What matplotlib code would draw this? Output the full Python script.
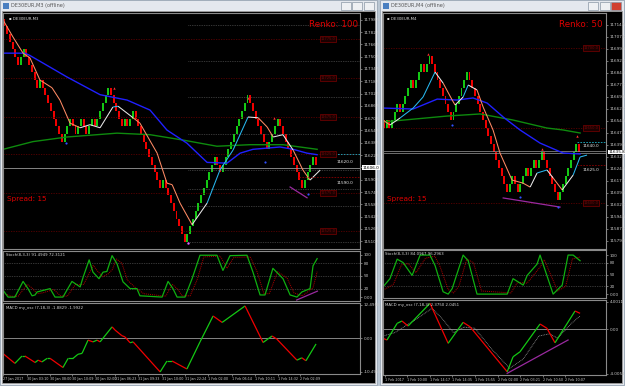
import matplotlib
matplotlib.use("Agg")
import matplotlib.pyplot as plt
import numpy as np
from matplotlib.collections import LineCollection
from matplotlib.patches import Rectangle

W, H = 625, 386

# ---------------- left window: DE30EUR,M3  Renko 100 ----------------
left_base = 11500.0
left_brick = 10.0
left_start = 30
left_levels = [29, 28, 27, 26, 25, 24, 25, 26, 25, 24, 23, 22, 21, 22, 21, 20, 19, 18, 17,
               16, 15, 14, 15, 16, 17, 16, 15, 16, 17, 16, 15, 16, 17, 16, 17, 18,
               19, 20, 21,
               20, 19, 18, 17, 16, 17, 16, 17, 18, 17,
               16, 15, 14, 13, 12, 11, 10, 9, 8, 9, 8, 7, 6, 5, 4, 3, 2, 1,
               2, 3, 4, 5, 6, 7, 8, 9, 10, 11, 12, 11, 10, 11, 12, 13, 14, 15, 16, 17, 18, 19, 20,
               19, 18, 17, 16, 15, 14, 13,
               14, 15, 16, 17,
               16, 15, 14, 13, 12, 11, 10, 9, 8,
               9, 10, 11, 12, 11]

left_blue_x = [-0.5, 7.5, 9.3, 22.9, 35, 44.9, 53.3, 59.5, 66.8, 74.2, 81.5, 86.3, 91, 100.9, 105.7, 110.8, 114.5]
left_blue_y = [11755, 11755, 11752, 11724, 11701, 11694, 11681, 11655, 11638, 11613, 11612, 11625, 11630, 11633, 11630, 11625, 11623]
left_green_x = [-0.5, 10.4, 22.9, 41.2, 53.3, 65.4, 77.8, 89.9, 102, 114.5]
left_green_y = [11630, 11640, 11646, 11651, 11649, 11642, 11634, 11636, 11636, 11630]
left_fast_x = [-0.5, 3.1, 6.8, 9.3, 13, 17.4, 20.3, 24, 27.7, 31.3, 35, 39.7, 41.6, 47.1, 49.6, 55.9,
               59.5, 61.4, 64.3, 68.7, 74.2, 78.9, 83.7, 89.2, 92.9, 96.2, 98.4, 102, 105.7, 109.3, 111.9, 115.6]
left_fast_y = [11798, 11776, 11755, 11749, 11720, 11710, 11694, 11664, 11658, 11662, 11658, 11685, 11686, 11671, 11664, 11625,
               11586, 11584, 11560, 11532, 11560, 11603, 11629, 11672, 11671, 11659, 11646, 11649, 11629, 11603, 11590, 11603]
left_pivots = [11791.6, 11744.8, 11698.0, 11649.9, 11603.1, 11578.0, 11556.3, 11509.5]
left_levels_red = [11773, 11723, 11672, 11624, 11573, 11524]
left_level_labels = ["11775.0", "11725.0", "11675.0", "11625.0", "11575.0", "11525.0"]
left_bid = 11606.0
left_low_dots_x = [22.5, 95.4, 111.2]
left_low_dots_y = [11638, 11613.5, 11572]
left_bottom_dot = (67.2, 11508)
left_peak_x = [40.1, 89.2, 98.7]
left_peak_y = [11710, 11697, 11671]
left_div_x = [104.6, 110.8]
left_div_y = [11581, 11567]

left_stoch_x = [-0.5, 1.3, 3.8, 6.8, 8.6, 10.1, 11.2, 11.9, 16.7, 18.5, 21.4, 24.7, 27.7, 28.8, 31, 32.4, 34.6, 36.1,
                37.5, 39.4, 41.2, 43.4, 46, 48.5, 49.6, 57.7, 59.9, 61.7, 63.2, 66.1, 68.7, 71.6, 77.8, 80, 82.6,
                88.8, 91, 93.6, 95.4, 98.3, 102, 104.6, 107.1, 108.9, 111.9, 113, 114.5]
left_stoch_k = [16, 0, 0, 37, 20, 3, 5, 12, 20, 0, 0, 37, 24, 47, 88, 59, 43.5, 59,
                60.5, 98, 79, 36, 20, 20, 3, 0, 37, 20, 0, 0, 43.5, 99, 99, 63, 98,
                99, 59, 5, 5, 68, 43.5, 5, 0, 12, 20, 74, 91]
left_sig_x = [-0.5, 2.5, 5, 8.3, 10, 12, 14, 18, 20.5, 23, 26, 29, 32.5, 34, 36, 38, 39.5, 41, 43, 45, 48, 51,
              59, 61.5, 63.5, 65, 68, 70.5, 73, 79, 81.5, 84, 90, 92.5, 95, 97, 100, 103.5, 106, 109, 111, 113, 114.5]
left_sig_d = [10, 2, 2, 30, 22, 8, 10, 18, 3, 2, 30, 30, 75, 62, 48, 55, 65, 90, 80, 40, 22, 8,
              2, 30, 18, 3, 3, 40, 95, 97, 68, 94, 95, 60, 8, 8, 60, 45, 10, 3, 12, 22, 60]
left_stoch_div_x = [107.0, 114.6]
left_stoch_div_y = [-7, 14]

left_macd_x = [-0.5, 3.8, 6.4, 7.5, 11.2, 12.3, 13.7, 15.6, 16.7, 21.4, 23.3, 25.1, 26.9, 28.4, 30.6, 32.4, 33.9,
               35, 39.4, 40.5, 43, 44.1, 46, 47.1, 57, 59.5, 61.4, 66.8, 71.6, 76.4, 79.7, 88.1, 94.7, 98,
               99.8, 107.1, 108.9, 110.4, 114.1]
left_macd_y = [-5.2, -8.5, -6, -6, -8.2, -7.4, -8, -6.8, -6.8, -9.9, -6.8, -6.8, -5.4, -5.1, -0.6, -1.2, -0.6,
               -1.2, 3.9, 2.8, 0.9, 0.5, -1.5, -1.2, -11.4, -7.7, -7.7, -10.4, -1.2, 7.6, 5.4, 11, -1.4, 0.8,
               -0.3, -7.4, -6.6, -7.6, -1.9]
left_time_x = [-0.5, 8.2, 16.7, 24.7, 33.1, 40.5, 48.9, 57.7, 66.1, 74.5, 83.3, 91.8, 100.2, 108.2]
left_time_lab = ["27 Jan 2017", "30 Jan 03:10", "30 Jan 08:00", "30 Jan 10:09", "30 Jan 02:00", "31 Jan 06:23",
                 "31 Jan 09:33", "31 Jan 10:00", "31 Jan 22:24", "1 Feb 02:00", "1 Feb 06:14", "1 Feb 10:11",
                 "1 Feb 14:32", "2 Feb 02:09"]

# ---------------- right window: DE30EUR,M4  Renko 50 ----------------
right_base = 11570.0
right_brick = 5.0
right_start = 17
right_levels = [16, 17, 16, 17,
                18, 19, 18, 19, 20, 21, 22, 21, 22, 23, 24, 23, 24, 25,
                24, 23, 22, 21, 20, 19, 18, 17,
                18, 19, 20, 21, 22, 23,
                22, 21, 20, 19, 18, 17, 16, 15, 14, 13, 12, 11, 10, 9, 8,
                9, 10, 9, 8, 9, 10, 11, 10, 11, 12, 11, 12, 13,
                12, 11, 10, 9, 8, 7,
                8, 9, 10, 11, 12, 13, 14, 13]
right_blue_x = [-0.4, 10.9, 19.9, 27.3, 33.3, 38.6, 44.6, 50.9, 58.4, 67, 73.4]
right_blue_y = [11662.5, 11661.9, 11668.1, 11667.5, 11668.8, 11665.6, 11656.9, 11648.8, 11640.6, 11634.4, 11633.8]
right_green_x = [-0.4, 23.6, 36, 48.3, 61, 67, 73.4]
right_green_y = [11653.8, 11657.5, 11658.8, 11655, 11650, 11648.8, 11646.9]
right_fast_x = [-0.4, 2.2, 6, 10.9, 14.6, 19.1, 22.1, 25.5, 26.6, 29.6, 31.5, 34.8, 37.1, 40.8, 43.4, 47.9,
                52, 54.7, 57.3, 61, 63.3, 66.7, 70.8, 73.4, 76]
right_fast_y = [11655, 11651.9, 11656.3, 11662.5, 11669.4, 11685, 11678.1, 11667.5, 11664.4, 11669.4, 11676.9,
                11673.8, 11663.1, 11648.8, 11634.4, 11617.5, 11615.6, 11613.1, 11621.9, 11623.8, 11618.8,
                11611.3, 11620.6, 11631.9, 11633.1]
right_levels_red = [11700, 11650, 11603]
right_level_labels = ["11700.0", "11650.0", "11600.0"]
right_bid = [11635.8, 11634.2]
right_low_dots_x = [25.5, 50.9, 65.2]
right_low_dots_y = [11651.9, 11606.9, 11600.6]
right_peak_x = [16.5, 59.0, 72.3]
right_peak_y = [11696, 11637, 11645]
right_div_x = [44.6, 65.9]
right_div_y = [11606.3, 11600.6]

right_stoch_x = [-0.4, 2.2, 4.9, 7.1, 10.5, 13.5, 17.2, 19.1, 22.1, 24, 25.5, 29.6, 31.5, 34.8, 46.1, 48.3,
                 52.1, 53.6, 57.3, 58.4, 63.3, 66.7, 68.9, 70.8, 73.4]
right_stoch_k = [18.5, 39.5, 89.5, 81, 48, 100, 100, 73, 6, 0, 14, 100, 85.5, 0, 0, 39.5,
                 23, 48, 77, 100, 0, 23, 100, 100, 85.5]
right_sig_x = [-0.4, 3.5, 6.5, 9, 12, 15.5, 19, 21, 24, 26, 28, 31, 33.5, 36.5, 47.5, 50, 53.5, 55, 58.5,
               60, 65, 68, 70.5, 73.4]
right_sig_d = [10, 25, 75, 78, 55, 92, 97, 70, 12, 3, 20, 90, 80, 8, 3, 30, 28, 40, 70, 88, 8, 20, 90, 95]
right_macd_x = [-0.4, 1.1, 4.9, 6.7, 9, 17.2, 24, 29.6, 32.2, 46.1, 48.3, 50.9, 58.4, 61, 64, 71.5, 73.4]
right_macd_y = [-0.81, -0.96, 0.54, 0.75, 0.3, 2.34, -1.26, 0.63, 0.23, -3.82, -2.47, -2.02, 0.48, 0.09,
                -1.21, 1.65, 1.44]
right_msig_x = [-0.4, 4, 8, 12, 18, 22, 26, 30, 34, 40, 47, 52, 58, 62, 65, 70, 73.4]
right_msig_y = [-0.6, -0.3, 0.3, 0.9, 1.9, 0.9, -0.3, 0.2, 0.1, -1.7, -3.5, -2.7, -0.6, -0.4, -0.8, 0.5, 1.2]
right_macd_div_x = [46.1, 68.9]
right_macd_div_y = [-3.96, -0.96]
right_time_x = [0.4, 8.6, 17.2, 25.5, 34.1, 42.7, 50.9, 59.6, 67.8]
right_time_lab = ["1 Feb 2017", "1 Feb 10:00", "1 Feb 14:17", "1 Feb 14:35", "1 Feb 15:55", "2 Feb 02:00",
                  "2 Feb 03:21", "2 Feb 10:50", "2 Feb 10:07"]

GREEN = "#14c814"
RED = "#f00000"
GRID = "#8a8a8a"
LAB = "#c8c8c8"


def box(x0, y0, x1, y1):
    return [x0 / W, 1 - y1 / H, (x1 - x0) / W, (y1 - y0) / H]


def style(ax, xlim, ylim, yticks, ylabels, fs=3):
    ax.set_facecolor("black")
    for s in ax.spines.values():
        s.set_color(GRID)
        s.set_linewidth(0.8)
    ax.set_xlim(*xlim)
    ax.set_ylim(*ylim)
    ax.yaxis.tick_right()
    ax.set_yticks(yticks)
    ax.set_yticklabels(ylabels)
    ax.tick_params(axis="y", colors=LAB, labelsize=fs, length=1.5, width=0.4, pad=1)
    ax.set_xticks([])


def renko(ax, base, brick, start, levels, width):
    prev = np.array([start] + levels[:-1])
    cur = np.array(levels)
    lo = np.minimum(prev, cur)
    cols = [GREEN if c > p else RED for p, c in zip(prev, cur)]
    ax.bar(np.arange(len(cur)), brick, bottom=base + lo * brick, width=width, color=cols, linewidth=0)


def twocolor(ax, x, y, up, down, lw, turn=None):
    pts = np.column_stack([x, y])
    segs = np.stack([pts[:-1], pts[1:]], axis=1)
    rising = [b >= a for a, b in zip(y[:-1], y[1:])]
    cols = []
    for j, r in enumerate(rising):
        if turn is not None and j > 0 and r != rising[j - 1]:
            cols.append(turn)
        else:
            cols.append(up if r else down)
    ax.add_collection(LineCollection(segs, colors=cols, linewidths=lw))


fig = plt.figure(figsize=(W / 100, H / 100), dpi=100)
fig.patch.set_facecolor("#b9c6d3")

# window frames (drawn below the axes)
for (x0, x1, title, btn_red) in [(0, 377, "DE30EUR,M3 (offline)", False), (380, 624, "DE30EUR,M4 (offline)", True)]:
    fig.patches.append(Rectangle((x0 / W, 1 - 385 / H), (x1 - x0) / W, 385 / H, transform=fig.transFigure,
                                 facecolor="#e4e8ee", edgecolor="#9aa6b4", lw=0.6, zorder=-20))
    fig.patches.append(Rectangle(((x0 + 2) / W, 1 - 383 / H), (x1 - x0 - 4) / W, 372 / H, transform=fig.transFigure,
                                 facecolor="black", edgecolor="#a0a0a0", lw=0.6, zorder=-19))
    fig.patches.append(Rectangle(((x0 + 3) / W, 1 - 9 / H), 6 / W, 6 / H, transform=fig.transFigure,
                                 facecolor="#4a7fc0", edgecolor="none", zorder=-18))
    fig.text((x0 + 11) / W, 1 - 5.5 / H, title, fontsize=3.6, color="#555555", va="center")
    for j in range(3):
        bx = x1 - 36 + j * 11.5
        fc = "#d04030" if (btn_red and j == 2) else "#eef0f3"
        fig.patches.append(Rectangle((bx / W, 1 - 9.5 / H), 10 / W, 7.5 / H, transform=fig.transFigure,
                                     facecolor=fc, edgecolor="#8a96a4", lw=0.5, zorder=-18))

# ---------- left price ----------
axLp = fig.add_axes(box(3, 13, 360, 249))
style(axLp, (-0.55, 130.2), (11500.4, 11807.2), np.arange(11510.5, 11805, 16),
      ["%.1f" % v for v in np.arange(11510.5, 11805, 16)])
for p in left_pivots:
    axLp.plot([67.2, 130.2], [p, p], color="#6a6a6a", lw=0.5, ls=(0, (1, 1.5)))
for p, lab in zip(left_levels_red, left_level_labels):
    axLp.axhline(p, color="#5a0000", lw=0.6, ls=(0, (1.5, 1.5)))
    axLp.text(118.5, p, lab, color="#6a0a0a", fontsize=2.6, ha="center", va="center",
              bbox=dict(facecolor="#1a0000", edgecolor="#7a0000", lw=0.5, pad=0.6))
axLp.axhline(left_bid, color="#9a9a9a", lw=0.6)
renko(axLp, left_base, left_brick, left_start, left_levels, 0.72)
axLp.plot(left_green_x, left_green_y, color="#0e8a0e", lw=1.0)
axLp.plot(left_blue_x, left_blue_y, color="#2020ff", lw=1.0)
twocolor(axLp, np.array(left_fast_x), np.array(left_fast_y), "#28b8f0", "#ff8a64", 0.75, turn="#e8e8e8")
axLp.plot([115.6, 130.2], [11624, 11624], color="#20b0c8", lw=0.6, ls=(0, (2, 1.5)))
axLp.plot([108.0, 130.2], [11594, 11594], color="#8a0000", lw=0.6, ls=(0, (2, 1.5)))
axLp.text(121.5, 11614, "11620.0", color="#e8e8e8", fontsize=3, va="center")
axLp.text(121.5, 11586, "11590.0", color="#e8e8e8", fontsize=3, va="center")
axLp.scatter(left_low_dots_x, left_low_dots_y, s=2.5, color="#3050ff", zorder=5, lw=0)
axLp.scatter([left_bottom_dot[0]], [left_bottom_dot[1]], s=3, color="#e060ff", zorder=5, lw=0)
axLp.scatter(left_peak_x, left_peak_y, s=3, marker="^", color="#ff3030", zorder=5, lw=0)
axLp.plot(left_div_x, left_div_y, color="#9a2aa0", lw=0.9)
axLp.text(0.994, 0.953, "Renko: 100", transform=axLp.transAxes, color="#e00000", fontsize=6.3, ha="right", va="center")
axLp.text(0.012, 0.212, "Spread: 15", transform=axLp.transAxes, color="#e00000", fontsize=5.2, ha="left", va="center")
axLp.text(0.018, 0.985, "\u25aa DE30EUR,M3", transform=axLp.transAxes, color="#e0e0e0", fontsize=2.8, va="top")
axLp.text(1.008, left_bid, "%.1f" % left_bid, transform=axLp.get_yaxis_transform(), fontsize=3, color="black",
          va="center", bbox=dict(facecolor="white", edgecolor="none", pad=0.3))

# ---------- left stoch ----------
axLs = fig.add_axes(box(3, 251, 360, 301))
style(axLs, (-0.55, 130.2), (-9.3, 109), [100, 80, 50, 20, 0], ["100", "80", "50", "20", "0.00"])
for lv in (80, 50, 20):
    axLs.axhline(lv, color="#6a6a6a", lw=0.5, ls=(0, (1, 1.5)))
axLs.plot(left_sig_x, left_sig_d, color="#b00000", lw=0.7, ls=(0, (1, 1)))
axLs.plot(left_stoch_x, left_stoch_k, color="#10b010", lw=0.9)
axLs.plot(left_stoch_div_x, left_stoch_div_y, color="#9a2aa0", lw=0.9)
axLs.text(0.008, 0.95, "Stoch(8,3,3) 91.4949 72.3121", transform=axLs.transAxes, color="#d8d8d8", fontsize=2.8, va="top")

# ---------- left macd ----------
axLm = fig.add_axes(box(3, 303, 360, 374))
style(axLm, (-0.55, 130.2), (-12.1, 12.0), [11.4, 0, -11.4], ["12.4958", "0.00", "-10.4958"])
axLm.axhline(0, color="#9a9a9a", lw=0.6)
twocolor(axLm, np.array(left_macd_x), np.array(left_macd_y), GREEN, RED, 0.9)
axLm.text(0.008, 0.96, "MACD my_osc (7,18,3) -1.8829 -1.9922", transform=axLm.transAxes, color="#d8d8d8",
          fontsize=2.8, va="top")
axLm.set_xticks(left_time_x)
axLm.set_xticklabels(left_time_lab, ha="left")
axLm.tick_params(axis="x", colors=LAB, labelsize=2.4, length=1.5, width=0.4, pad=1)

# ---------- right price ----------
axRp = fig.add_axes(box(383, 13, 606, 249))
rt = np.arange(11579.5, 11721, 7.5)
style(axRp, (-0.4, 83.1), (11574.4, 11721.9), rt, ["%.1f" % v for v in rt])
for p, lab in zip(right_levels_red, right_level_labels):
    axRp.axhline(p, color="#5a0000", lw=0.6, ls=(0, (1.5, 1.5)))
    axRp.text(77.5, p, lab, color="#6a0a0a", fontsize=2.6, ha="center", va="center",
              bbox=dict(facecolor="#1a0000", edgecolor="#7a0000", lw=0.5, pad=0.6))
for b in right_bid:
    axRp.axhline(b, color="#9a9a9a", lw=0.5)
renko(axRp, right_base, right_brick, right_start, right_levels, 0.72)
axRp.plot(right_green_x, right_green_y, color="#0e8a0e", lw=1.0)
axRp.plot(right_blue_x, right_blue_y, color="#2020ff", lw=1.0)
twocolor(axRp, np.array(right_fast_x), np.array(right_fast_y), "#28b8f0", "#ff8a64", 0.75, turn="#e8e8e8")
axRp.plot([72.3, 83.1], [11641.3, 11641.3], color="#20b0c8", lw=0.6, ls=(0, (2, 1.5)))
axRp.plot([72.3, 83.1], [11626.9, 11626.9], color="#8a0000", lw=0.6, ls=(0, (2, 1.5)))
axRp.text(74.5, 11638.5, "11640.0", color="#e8e8e8", fontsize=3, va="center")
axRp.text(74.5, 11623.5, "11625.0", color="#e8e8e8", fontsize=3, va="center")
axRp.scatter(right_low_dots_x, right_low_dots_y, s=2.5, color="#3050ff", zorder=5, lw=0)
axRp.scatter(right_peak_x, right_peak_y, s=3, marker="^", color="#ff3030", zorder=5, lw=0)
axRp.plot(right_div_x, right_div_y, color="#9a2aa0", lw=0.9)
axRp.text(0.985, 0.953, "Renko: 50", transform=axRp.transAxes, color="#e00000", fontsize=6.3, ha="right", va="center")
axRp.text(0.02, 0.212, "Spread: 15", transform=axRp.transAxes, color="#e00000", fontsize=5.2, ha="left", va="center")
axRp.text(0.02, 0.985, "\u25aa DE30EUR,M4", transform=axRp.transAxes, color="#e0e0e0", fontsize=2.8, va="top")
axRp.text(1.01, right_bid[0] - 0.8, "%.1f" % right_bid[0], transform=axRp.get_yaxis_transform(), fontsize=3,
          color="black", va="center", bbox=dict(facecolor="white", edgecolor="none", pad=0.3))

# ---------- right stoch ----------
axRs = fig.add_axes(box(383, 250, 606, 298))
style(axRs, (-0.4, 83.1), (-10, 113), [100, 80, 50, 20, 0], ["100", "80", "50", "20", "0.00"])
for lv in (80, 50, 20):
    axRs.axhline(lv, color="#6a6a6a", lw=0.5, ls=(0, (1, 1.5)))
axRs.plot(right_sig_x, right_sig_d, color="#b00000", lw=0.7, ls=(0, (1, 1)))
axRs.plot(right_stoch_x, right_stoch_k, color="#10b010", lw=0.9)
axRs.text(0.01, 0.95, "Stoch(8,3,3) 84.0967 96.2963", transform=axRs.transAxes, color="#d8d8d8", fontsize=2.8, va="top")

# ---------- right macd ----------
axRm = fig.add_axes(box(383, 300, 606, 375))
style(axRm, (-0.4, 83.1), (-4.11, 2.64), [2.5, 0, -4.0], ["4.0011", "0.00", "-4.0051"])
axRm.axhline(0, color="#9a9a9a", lw=0.6)
axRm.plot(right_msig_x, right_msig_y, color="#9a9a9a", lw=0.6, ls=(0, (1, 1)))
twocolor(axRm, np.array(right_macd_x), np.array(right_macd_y), GREEN, RED, 0.9)
axRm.plot(right_macd_div_x, right_macd_div_y, color="#9a2aa0", lw=0.9)
axRm.text(0.01, 0.96, "MACD my_osc (7,18,3) 2.3750 2.0451", transform=axRm.transAxes, color="#d8d8d8",
          fontsize=2.8, va="top")
axRm.set_xticks(right_time_x)
axRm.set_xticklabels(right_time_lab, ha="left")
axRm.tick_params(axis="x", colors=LAB, labelsize=2.4, length=1.5, width=0.4, pad=1)

fig.savefig("out.png", dpi=100, facecolor=fig.get_facecolor())
